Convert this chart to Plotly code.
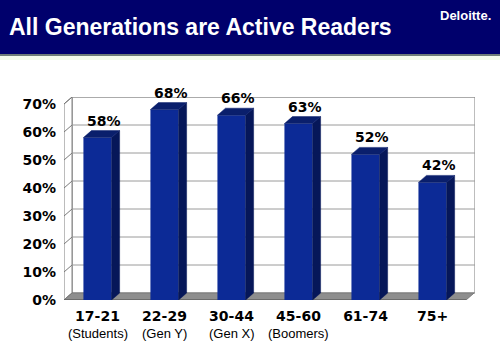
import plotly.graph_objects as go

# ---- data ----
categories = ["17-21", "22-29", "30-44", "45-60", "61-74", "75+"]
subtitles = ["(Students)", "(Gen Y)", "(Gen X)", "(Boomers)", "", ""]
values = [58, 68, 66, 63, 52, 42]
y_ticks = [0, 10, 20, 30, 40, 50, 60, 70]
y_tick_labels = [f"{v}%" for v in y_ticks]
title_text = "All Generations are Active Readers"
brand_text = "Deloitte."

# ---- styling / geometry ----
W, H = 500, 352
ML, MR, MT, MB = 64, 25, 97, 52
PW, PH = W - ML - MR, H - MT - MB
DX, DY = 0.12, 2.5       # 3D depth offset in data units
BW = 0.42                # bar width
FRONT = "#0c2a96"
SIDE = "#061759"
TOP = "#0a1f6c"
GRID = "#9a9a9a"
EDGE = "#7a7a7a"
FLOOR = "#8e8e8e"
NAVY = "#00006c"

n = len(categories)
idx = list(range(n))
xmin, xmax = -0.5, n - 0.5 + DX + 0.014
ymax = max(y_ticks) + DY


def pxx(p):
    return (p - ML) / PW


def pxy(p):
    return (H - MB - p) / PH


fig = go.Figure()

# front faces
fig.add_trace(go.Bar(x=idx, y=values, width=BW, marker=dict(color=FRONT, line=dict(width=0)),
                     hoverinfo="skip"))

# side faces
sx, sy = [], []
for i, v in zip(idx, values):
    r = i + BW / 2
    sx += [r, r, r + DX, r + DX, r, None]
    sy += [0, v, v + DY, DY, 0, None]
fig.add_trace(go.Scatter(x=sx, y=sy, fill="toself", fillcolor=SIDE, mode="lines",
                         line=dict(width=0.5, color=SIDE), hoverinfo="skip"))
# top faces
tx, ty = [], []
for i, v in zip(idx, values):
    l, r = i - BW / 2, i + BW / 2
    tx += [l, r, r + DX, l + DX, l, None]
    ty += [v, v, v + DY, v + DY, v, None]
fig.add_trace(go.Scatter(x=tx, y=ty, fill="toself", fillcolor=TOP, mode="lines",
                         line=dict(width=0.5, color=TOP), hoverinfo="skip"))

shapes = []
# header band
shapes.append(dict(type="rect", xref="paper", yref="paper", x0=pxx(0), x1=pxx(W),
                   y0=pxy(54), y1=pxy(0), fillcolor=NAVY, line=dict(width=0), layer="below"))
shapes.append(dict(type="rect", xref="paper", yref="paper", x0=pxx(0), x1=pxx(W),
                   y0=pxy(56), y1=pxy(54), fillcolor="#6f7d78", line=dict(width=0), layer="below"))
shapes.append(dict(type="rect", xref="paper", yref="paper", x0=pxx(0), x1=pxx(W),
                   y0=pxy(60), y1=pxy(56), fillcolor="#f3faea", line=dict(width=0), layer="below"))
# back wall
shapes.append(dict(type="rect", x0=xmin + DX, x1=xmax, y0=DY, y1=ymax, fillcolor="white",
                   line=dict(color=EDGE, width=1), layer="below"))
# left wall
shapes.append(dict(type="path",
                   path=f"M {xmin},0 L {xmin + DX},{DY} L {xmin + DX},{ymax} L {xmin},{max(y_ticks)} Z",
                   fillcolor="white", line=dict(color=EDGE, width=1), layer="below"))
# gridlines
for v in y_ticks[1:]:
    shapes.append(dict(type="line", x0=xmin + DX, x1=xmax, y0=v + DY, y1=v + DY,
                       line=dict(color=GRID, width=1), layer="below"))
for v in y_ticks:
    shapes.append(dict(type="line", x0=xmin, x1=xmin + DX, y0=v, y1=v + DY,
                       line=dict(color=EDGE, width=1), layer="below"))
# floor
xr = n - 0.5
shapes.append(dict(type="path",
                   path=f"M {xmin},0 L {xr},0 L {xr + DX},{DY} L {xmin + DX},{DY} Z",
                   fillcolor=FLOOR, line=dict(color=EDGE, width=1), layer="below"))
shapes.append(dict(type="line", x0=xmin, x1=xr, y0=0, y1=0, line=dict(color="#555555", width=1),
                   layer="below"))
# category boundary ticks
for k in range(n + 1):
    shapes.append(dict(type="line", x0=xmin + k, x1=xmin + k, y0=0, y1=-1.4,
                       line=dict(color="#555555", width=1), layer="below"))

annotations = []
annotations.append(dict(xref="paper", yref="paper", x=pxx(7), y=pxy(27), xanchor="left",
                        yanchor="middle", text=f"<b>{title_text}</b>", showarrow=False,
                        font=dict(family="Liberation Sans", size=23, color="white")))
annotations.append(dict(xref="paper", yref="paper", x=pxx(493), y=pxy(16), xanchor="right",
                        yanchor="middle", text=f"<b>{brand_text}</b>", showarrow=False,
                        font=dict(family="Liberation Sans", size=13, color="white")))
for i, v in zip(idx, values):
    annotations.append(dict(x=i + 0.1, y=v + DY, xanchor="center", yanchor="bottom",
                            text=f"<b>{v}%</b>", showarrow=False,
                            font=dict(family="DejaVu Sans", size=14, color="black")))
for i, s in zip(idx, subtitles):
    if s:
        annotations.append(dict(x=i, xref="x", yref="paper", y=pxy(333), xanchor="center",
                                yanchor="middle", text=s, showarrow=False,
                                font=dict(family="Liberation Sans", size=13, color="black")))

fig.update_layout(
    width=W, height=H,
    margin=dict(l=ML, r=MR, t=MT, b=MB, pad=0),
    paper_bgcolor="white", plot_bgcolor="rgba(0,0,0,0)",
    showlegend=False, hovermode=False,
    shapes=shapes, annotations=annotations,
    xaxis=dict(range=[xmin, xmax], tickvals=idx, ticktext=[f"<b>{c}</b>" for c in categories],
               showgrid=False, zeroline=False, showline=False, ticks="",
               ticklabelstandoff=6,
               tickfont=dict(family="DejaVu Sans", size=14, color="black"), fixedrange=True),
    yaxis=dict(range=[0, ymax], tickvals=y_ticks, ticktext=[f"<b>{t}</b>" for t in y_tick_labels],
               showgrid=False, zeroline=False, showline=False, ticks="",
               ticklabelstandoff=7,
               tickfont=dict(family="DejaVu Sans", size=14, color="black"), fixedrange=True),
)

fig.write_html("out.html", config={"displayModeBar": False})
